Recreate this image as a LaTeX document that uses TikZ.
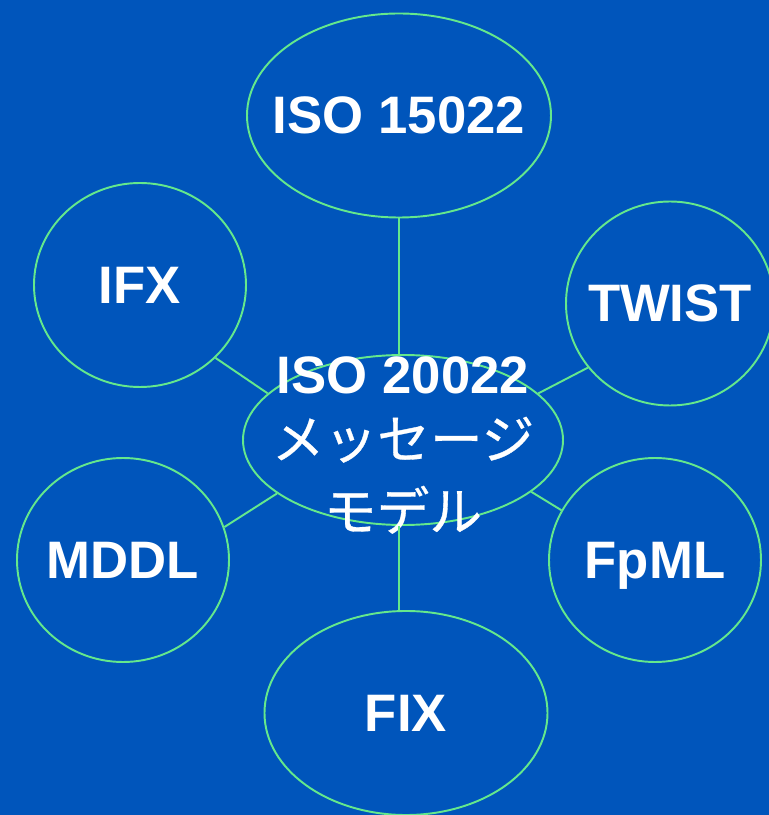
\documentclass[tikz,border=0pt]{standalone}
\usepackage{fontspec}
\setmainfont{Liberation Sans}
\newfontfamily\jpfont[FakeBold=0.6]{Noto Sans CJK JP}
\usetikzlibrary{shapes.geometric}

\definecolor{bgblue}{RGB}{0,85,187}
\definecolor{edgegreen}{RGB}{100,232,140}

\tikzset{
    bubble/.style = {ellipse, draw = edgegreen, line width = 1.1pt, inner sep = 0pt,
        minimum width = 4.24cm, minimum height = 4.08cm},
    caps/.style = {label = {[text depth = 0pt]center:#1}},
    link/.style = {draw = edgegreen, line width = 1.1pt},
    every label/.style = {text = white, font = \fontsize{30}{37}\selectfont\bfseries}
}

\begin{document}
\begin{tikzpicture}
    \fill [bgblue] (0,0) rectangle (15.38,16.3);
    \useasboundingbox (0,0) rectangle (15.38,16.3);

    \node [bubble, minimum width = 6.08cm, caps = {ISO 15022}] (iso) at (7.98,13.99) {};
    \node [bubble, caps = IFX] (ifx) at (2.8,10.6) {};
    \node [bubble, minimum width = 4.16cm, caps = TWIST] (twist) at (13.4,10.23) {};
    \node [bubble, minimum width = 6.4cm, minimum height = 3.4cm,
        label = {[align = center, yshift = -3pt]center:ISO 20022\\{\jpfont\mdseries メッセージ}\\[4pt]{\jpfont\mdseries モデル}}] (hub) at (8.06,7.5) {};
    \node [bubble, caps = MDDL] (mddl) at (2.46,5.1) {};
    \node [bubble, caps = FpML] (fpml) at (13.1,5.1) {};
    \node [bubble, minimum width = 5.66cm, caps = FIX] (fix) at (8.12,2.04) {};

    \draw [link] (iso.south) -- (hub.north -| iso.south);
    \draw [link] (fix.north -| iso.south) -- (hub.south -| iso.south);
    \draw [link] (ifx.-44) -- (hub.161);
    \draw [link] (twist.218) -- (hub.19);
    \draw [link] (mddl.18) -- (hub.203);
    \draw [link] (fpml.152) -- (hub.-22);
\end{tikzpicture}
\end{document}
